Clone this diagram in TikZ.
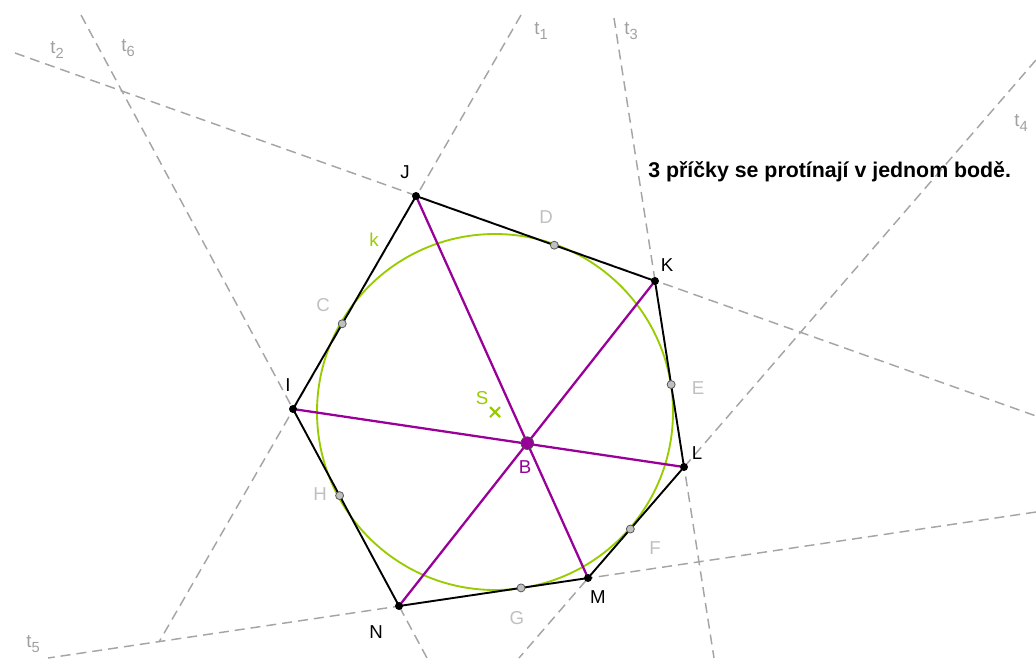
\documentclass[tikz,border=0pt]{standalone}
\usepackage{fontspec}
\setmainfont{Liberation Sans}
\usetikzlibrary{calc}

\definecolor{tgray}{RGB}{165,165,165}
\definecolor{lgray}{RGB}{160,160,160}
\definecolor{ptgray}{RGB}{192,192,192}
\definecolor{ggreen}{RGB}{153,204,0}
\definecolor{gpurple}{RGB}{153,0,153}

\newcommand{\tlab}[1]{t\raisebox{-0.5ex}{\fontsize{11}{11}\selectfont #1}}

\begin{document}
\begin{tikzpicture}[
      x=0.75pt, y=-0.75pt,
      tanline/.style={
          draw=tgray, line width=1.1pt,
          dash pattern=on 7.5pt off 4.5pt
      },
      sideline/.style={draw=black, line width=1.4pt},
      diagline/.style={draw=gpurple, line width=1.7pt},
      vertex/.style={
          circle, fill=black,
          inner sep=0pt, minimum size=6pt
      },
      touchpt/.style={
          circle, draw=black!65, fill=ptgray, line width=0.6pt,
          inner sep=0pt, minimum size=6pt
      },
      ptlabel/.style={
          font=\fontsize{14}{16}\selectfont, inner sep=0pt
      }
  ]
    \useasboundingbox (0,0) rectangle (1036,658);

    % vertices of the hexagon
    \coordinate (I) at (293,409);
    \coordinate (J) at (416,196);
    \coordinate (K) at (655,281);
    \coordinate (L) at (684,467);
    \coordinate (M) at (588,578);
    \coordinate (N) at (399,606);

    % centre of k
    \coordinate (S) at (495,412);

    % points of contact
    \coordinate (C) at ($(I)!(S)!(J)$);
    \coordinate (D) at ($(J)!(S)!(K)$);
    \coordinate (E) at ($(K)!(S)!(L)$);
    \coordinate (F) at ($(L)!(S)!(M)$);
    \coordinate (G) at ($(M)!(S)!(N)$);
    \coordinate (H) at ($(N)!(S)!(I)$);

    % ends of the tangents
    \coordinate (t1a) at (521,15);
    \coordinate (t1b) at (159,642);
    \coordinate (t2a) at (15,53);
    \coordinate (t2b) at (1036,416);
    \coordinate (t3a) at (614,18);
    \coordinate (t3b) at (714,658);
    \coordinate (t4a) at (1036,60);
    \coordinate (t4b) at (519,658);
    \coordinate (t5a) at (1036,512);
    \coordinate (t5b) at (48,658);
    \coordinate (t6a) at (81,15);
    \coordinate (t6b) at (427,658);

    % Tangents
    \draw[tanline] (t1a) -- (t1b);
    \draw[tanline] (t2a) -- (t2b);
    \draw[tanline] (t3a) -- (t3b);
    \draw[tanline] (t4a) -- (t4b);
    \draw[tanline] (t5a) -- (t5b);
    \draw[tanline] (t6a) -- (t6b);

    % circle k
    \draw[ggreen, line width=1.4pt] (S) circle[radius=178];
    \draw[ggreen, line width=1.6pt] ($(S)+(-5,-5)$) -- ($(S)+(5,5)$)
                                    ($(S)+(-5,5)$) -- ($(S)+(5,-5)$);

    % Hexagon
    \draw[sideline] (I) -- (J) -- (K) -- (L) -- (M) -- (N) -- cycle;

    % Diagonals
    \draw[diagline] (J) -- (M);
    \draw[diagline] (K) -- (N);
    \draw[diagline] (I) -- (L);
    \coordinate (B) at (intersection of J--M and K--N);

    % Points
    \foreach \p in {C,D,E,F,G,H}
        \node[touchpt] at (\p) {};
    \foreach \p in {I,J,K,L,M,N}
        \node[vertex] at (\p) {};
    \node[circle, draw=black!70, fill=gpurple, line width=0.6pt,
          inner sep=0pt, minimum size=9.5pt] (Bdot) at (B) {};

    % Labels
    \node[ptlabel] (Il) at (288,385) {I};
    \node[ptlabel] (Jl) at (405,172) {J};
    \node[ptlabel] (Kl) at (667,265) {K};
    \node[ptlabel] (Ll) at (697,453) {L};
    \node[ptlabel] (Ml) at (598,597) {M};
    \node[ptlabel] (Nl) at (376,632) {N};
    \node[ptlabel, text=ptgray] (Cl) at (323,305) {C};
    \node[ptlabel, text=ptgray] (Dl) at (546,217) {D};
    \node[ptlabel, text=ptgray] (El) at (698,388) {E};
    \node[ptlabel, text=ptgray] (Fl) at (655,548) {F};
    \node[ptlabel, text=ptgray] (Gl) at (517,618) {G};
    \node[ptlabel, text=ptgray] (Hl) at (320,494) {H};
    \node[ptlabel, text=ggreen] (kl) at (374,240) {k};
    \node[ptlabel, text=ggreen] (Sl) at (482,398) {S};
    \node[ptlabel, text=gpurple] (Bl) at (525,467) {B};
    \node[ptlabel, text=lgray] (t1l) at (541,31) {\tlab{1}};
    \node[ptlabel, text=lgray] (t2l) at (57,50) {\tlab{2}};
    \node[ptlabel, text=lgray] (t3l) at (631,31) {\tlab{3}};
    \node[ptlabel, text=lgray] (t4l) at (1021,123) {\tlab{4}};
    \node[ptlabel, text=lgray] (t5l) at (33,644) {\tlab{5}};
    \node[ptlabel, text=lgray] (t6l) at (128,48) {\tlab{6}};

    % note
    \node[anchor=west, inner sep=0pt, font=\bfseries\fontsize{16}{18}\selectfont]
        (note) at (648,172) {3 příčky se protínají v jednom bodě.};
  \end{tikzpicture}
\end{document}
